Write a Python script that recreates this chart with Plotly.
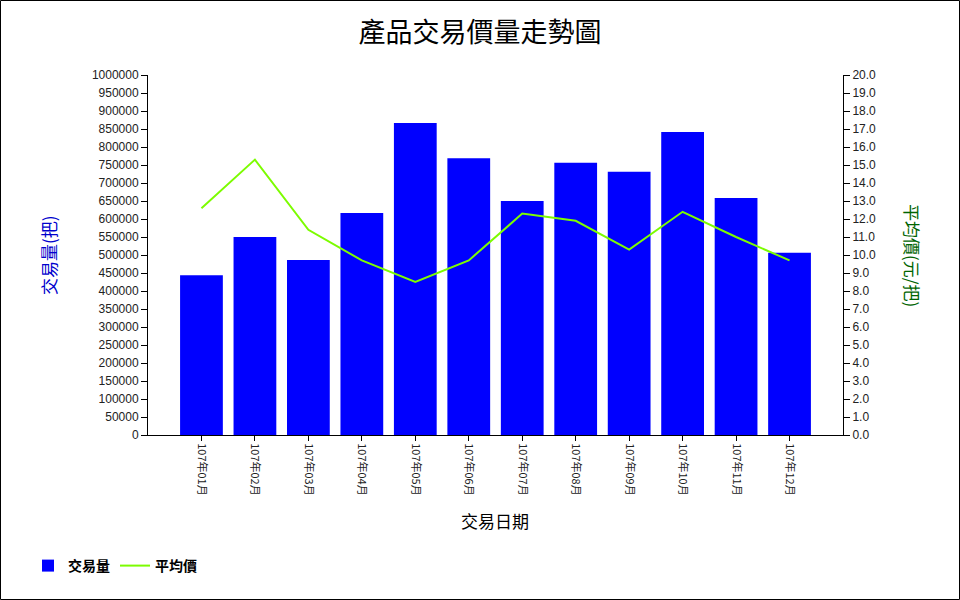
import plotly.graph_objects as go

months = ["107年01月", "107年02月", "107年03月", "107年04月", "107年05月", "107年06月",
          "107年07月", "107年08月", "107年09月", "107年10月", "107年11月", "107年12月"]
volume = [444000, 550000, 486000, 617000, 867000, 769000,
          650000, 756000, 731000, 842000, 658000, 506000]
avg_price = [12.6, 15.3, 11.4, 9.7, 8.5, 9.7, 12.3, 11.9, 10.3, 12.4, 11.0, 9.7]

L, R, T, B = 148, 117, 75, 165
W, H = 960, 600
pw, ph = W - L - R, H - T - B

def px(x):
    return (x - L) / pw

def py(y):
    return (H - B - y) / ph

tickfont = dict(family="Liberation Sans, Arial, sans-serif", size=12, color="#222")
cjk = "Noto Sans CJK TC, Noto Sans CJK SC, sans-serif"

fig = go.Figure()
fig.add_trace(go.Bar(x=list(range(len(months))), y=volume, name="交易量",
                     marker=dict(color="#0000FF", line=dict(width=0)), width=0.8))
fig.add_trace(go.Scatter(x=list(range(len(months))), y=avg_price, name="平均價", yaxis="y2",
                         mode="lines", line=dict(color="#7CFC00", width=2)))

fig.update_layout(
    width=W, height=H,
    margin=dict(l=L, r=R, t=T, b=B, pad=0),
    paper_bgcolor="white", plot_bgcolor="white",
    title=dict(text="產品交易價量走勢圖", x=0.5, xref="container", xanchor="center",
               y=1 - 33 / H, yref="container", yanchor="middle",
               font=dict(family=cjk, size=27, color="#000")),
    xaxis=dict(range=[-1, 12], tickmode="array", tickvals=list(range(len(months))),
               ticktext=months, tickangle=90, ticks="outside", ticklen=5,
               tickcolor="#000", showline=True, linecolor="#000", linewidth=1,
               showgrid=False, zeroline=False,
               tickfont=dict(family=cjk, size=11, color="#222")),
    yaxis=dict(range=[0, 1000000], dtick=50000, tick0=0, ticks="outside", ticklen=6,
               tickcolor="#000", showline=True, linecolor="#000", linewidth=1,
               showgrid=False, zeroline=False, tickformat="d", tickfont=tickfont),
    yaxis2=dict(range=[0, 20], dtick=1, tick0=0, overlaying="y", side="right",
                ticks="outside", ticklen=6, tickcolor="#000", showline=True,
                linecolor="#000", linewidth=1, showgrid=False, zeroline=False,
                tickformat=".1f", tickfont=tickfont),
    showlegend=True,
    legend=dict(orientation="h", x=px(28), y=py(566), xanchor="left", yanchor="middle",
                font=dict(family=cjk, size=14, color="#000", weight="bold"),
                bgcolor="rgba(0,0,0,0)", itemwidth=30, traceorder="normal"),
    bargap=0.2,
)

fig.add_annotation(text="交易量(把)", xref="paper", yref="paper", x=px(48), y=py(255),
                   xanchor="center", yanchor="middle",
                   showarrow=False, textangle=-90,
                   font=dict(family=cjk, size=17, color="#0000CD"))
fig.add_annotation(text="平均價(元/把)", xref="paper", yref="paper", x=px(913), y=py(255),
                   xanchor="center", yanchor="middle",
                   showarrow=False, textangle=90,
                   font=dict(family=cjk, size=17, color="#006400"))
fig.add_annotation(text="交易日期", xref="paper", yref="paper", x=px(495), y=py(520),
                   xanchor="center", yanchor="middle",
                   showarrow=False, font=dict(family=cjk, size=17, color="#000"))

fig.add_shape(type="rect", xref="paper", yref="paper",
              x0=px(0.5), x1=px(959.5), y0=py(0.5), y1=py(599.5),
              line=dict(color="#000", width=1), fillcolor="rgba(0,0,0,0)", layer="below")

fig.write_html("out.html")
